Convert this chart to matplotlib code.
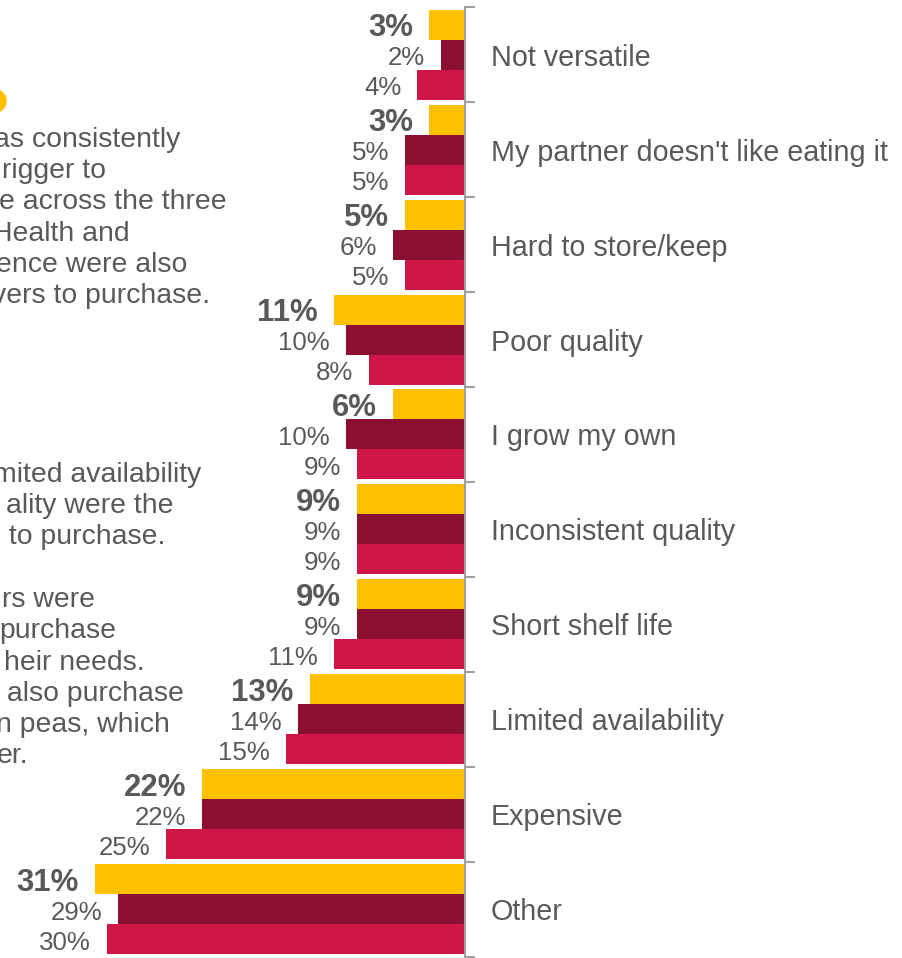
import matplotlib
matplotlib.use("Agg")
import matplotlib.pyplot as plt
from matplotlib.patches import Ellipse
import numpy as np

plt.rcParams['font.family'] = ['Liberation Sans', 'DejaVu Sans']

categories = ["Not versatile", "My partner doesn't like eating it", "Hard to store/keep",
              "Poor quality", "I grow my own", "Inconsistent quality", "Short shelf life",
              "Limited availability", "Expensive", "Other"]
series_a = [3, 3, 5, 11, 6, 9, 9, 13, 22, 31]
series_b = [2, 5, 6, 10, 10, 9, 9, 14, 22, 29]
series_c = [4, 5, 5, 8, 9, 9, 11, 15, 25, 30]

notes_top = ["as consistently", "rigger to", "e across the three", "Health and",
             "ence were also", "vers to purchase."]
notes_bottom = ["mited availability", "ality were the", " to purchase.", "",
                "rs were", "purchase", "heir needs.", " also purchase",
                "n peas, which", "er."]

# right edge (px) of each note line, and first baseline (px from top)
top_right = [180.7, 105.7, 226.7, 129.3, 187.3, 210]
bottom_right = [201.7, 173.3, 165.7, 0, 95, 116, 144.3, 184, 170, 28.3]
top_base, bottom_base, line_step = 146.7, 481.7, 31.3

colors = ['#FFC000', '#8A0F30', '#CE1746']
text_gray = '#595959'
axis_gray = '#A0A0A0'

W, H = 902, 958
fig = plt.figure(figsize=(W / 100, H / 100), dpi=100)
ax = fig.add_axes([0, 1 - 956.5 / H, 465 / W, (956.5 - 7.3) / H])

y = np.arange(len(categories))
h = 0.316
for off, vals, col, bold in [(-h, series_a, colors[0], True),
                             (0, series_b, colors[1], False),
                             (h, series_c, colors[2], False)]:
    ax.barh(y + off, vals, height=h, color=col, linewidth=0)
    for yi, v in zip(y + off, vals):
        ax.annotate(f"{v}%", (v, yi), xytext=(-11.5, -2.5), textcoords='offset points',
                    ha='right', va='center', color=text_gray,
                    fontsize=22.4 if bold else 18.6,
                    fontweight='bold' if bold else 'normal')

ax.set_xlim(465 / 11.95, 0)
ax.set_ylim(len(categories) - 0.5, -0.5)

for s in ['left', 'top', 'bottom']:
    ax.spines[s].set_visible(False)
ax.spines['right'].set_color(axis_gray)
ax.spines['right'].set_linewidth(1.5)
ax.set_xticks([])
ax.yaxis.tick_right()
ax.set_yticks(y)
ax.set_yticklabels(categories, fontsize=20.7, color=text_gray)
ax.set_yticks(np.arange(-0.5, len(categories)), minor=True)
ax.tick_params(axis='y', which='major', length=0, pad=18.5)
ax.tick_params(axis='y', which='minor', length=7.2, width=1.5, color=axis_gray,
               direction='out')
ax.patch.set_alpha(0)

for i, (t, rx) in enumerate(zip(notes_top, top_right)):
    fig.text(rx / W, 1 - (top_base + i * line_step) / H, t, ha='right', va='baseline',
             fontsize=20.4, color=text_gray)
for i, (t, rx) in enumerate(zip(notes_bottom, bottom_right)):
    if t:
        fig.text(rx / W, 1 - (bottom_base + i * line_step) / H, t, ha='right',
                 va='baseline', fontsize=20.4, color=text_gray)

# marker dot at the left edge
r = 11.5
fig.add_artist(Ellipse((-5.5 / W, 1 - 101 / H), 2 * r / W, 2 * r / H,
                       transform=fig.transFigure, color='#FFC000', clip_on=False))

fig.savefig("out.png", dpi=100)
